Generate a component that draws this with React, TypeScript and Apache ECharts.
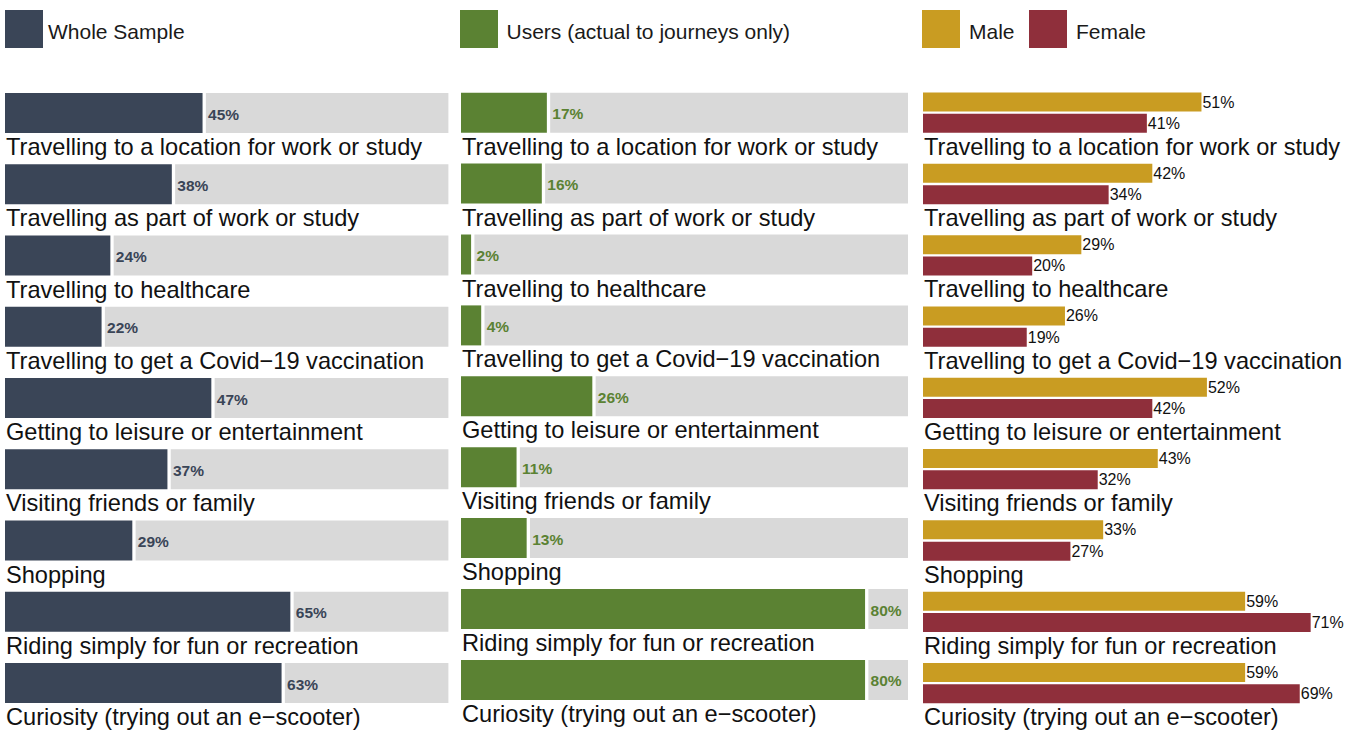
import React, { useEffect, useRef } from "react";
import * as echarts from "echarts";

const categories = [
  "Travelling to a location for work or study",
  "Travelling as part of work or study",
  "Travelling to healthcare",
  "Travelling to get a Covid\u221219 vaccination",
  "Getting to leisure or entertainment",
  "Visiting friends or family",
  "Shopping",
  "Riding simply for fun or recreation",
  "Curiosity (trying out an e\u2212scooter)",
];

const wholeSample = [45, 38, 24, 22, 47, 37, 29, 65, 63];
const users = [17, 16, 2, 4, 26, 11, 13, 80, 80];
const male = [51, 42, 29, 26, 52, 43, 33, 59, 59];
const female = [41, 34, 20, 19, 42, 32, 27, 71, 69];

const legendWhole = "Whole Sample";
const legendUsers = "Users (actual to journeys only)";
const legendMale = "Male";
const legendFemale = "Female";

const NAVY = "#3a4557";
const GREEN = "#5b8233";
const GREY = "#d9d9d9";
const GOLD = "#c99c22";
const RED = "#8f2f3b";
const FONT = "Liberation Sans, Arial, sans-serif";
const CAT_SIZE = 23.6;

const LEFT_MAX = 101;
const MID_MAX = 88.5;
const RIGHT_MAX = 75;

function makeBarRender(color: string, axisMax: number) {
  return (params: any, api: any) => {
    const v = api.value(0);
    const idx = api.value(1);
    const start = api.coord([0, idx]);
    const end = api.coord([v, idx]);
    const full = api.coord([axisMax, idx]);
    const cy = start[1];
    return {
      type: "group",
      children: [
        {
          type: "rect",
          shape: { x: start[0], y: cy - 20, width: end[0] - start[0], height: 40 },
          style: { fill: color },
        },
        {
          type: "rect",
          shape: { x: end[0] + 3.3, y: cy - 20, width: full[0] - end[0] - 3.3, height: 40 },
          style: { fill: GREY },
        },
        {
          type: "text",
          x: end[0] + 5.5,
          y: cy + 1,
          style: {
            text: v + "%",
            fill: color,
            fontSize: 15.5,
            fontWeight: "bold",
            fontFamily: FONT,
            align: "left",
            verticalAlign: "middle",
          },
        },
        {
          type: "text",
          x: start[0] + 1,
          y: cy + 34,
          style: {
            text: categories[idx],
            fill: "#111",
            fontSize: CAT_SIZE,
            fontFamily: FONT,
            align: "left",
            verticalAlign: "middle",
          },
        },
      ],
    };
  };
}

function labelRender(params: any, api: any) {
  const idx = api.value(1);
  const p = api.coord([0, idx]);
  return {
    type: "text",
    x: p[0] + 1,
    y: p[1] + 34,
    style: {
      text: categories[idx],
      fill: "#111",
      fontSize: CAT_SIZE,
      fontFamily: FONT,
      align: "left",
      verticalAlign: "middle",
    },
  };
}

export default function App() {
  const ref = useRef<HTMLDivElement>(null);
  useEffect(() => {
    if (!ref.current) return;
    const chart = echarts.init(ref.current, null, { renderer: "svg" });
    const hiddenX = (max: number, gi: number) => ({
      type: "value",
      gridIndex: gi,
      min: 0,
      max,
      show: false,
    });
    const hiddenY = (gi: number) => ({
      type: "category",
      gridIndex: gi,
      data: categories,
      inverse: true,
      show: false,
    });
    const legendItem = (x: number, w: number, gap: number, color: string, text: string) => [
      { type: "rect", shape: { x, y: 10, width: w, height: 38 }, style: { fill: color } },
      {
        type: "text",
        x: x + w + gap,
        y: 31,
        style: {
          text,
          fill: "#1a1a1a",
          fontSize: 21,
          fontFamily: FONT,
          align: "left",
          verticalAlign: "middle",
        },
      },
    ];
    const barLabel = {
      show: true,
      position: "right",
      distance: 1,
      formatter: "{c}%",
      color: "#111",
      fontSize: 16,
      fontFamily: FONT,
    };
    chart.setOption({
      animation: false,
      backgroundColor: "#ffffff",
      textStyle: { fontFamily: FONT },
      grid: [
        { left: 5, top: 77.4, width: 443.4, height: 641.25 },
        { left: 461, top: 77.25, width: 447, height: 638.1 },
        { left: 923, top: 77.05, width: 409.5, height: 641.7 },
      ],
      xAxis: [hiddenX(LEFT_MAX, 0), hiddenX(MID_MAX, 1), hiddenX(RIGHT_MAX, 2)],
      yAxis: [hiddenY(0), hiddenY(1), hiddenY(2)],
      graphic: [
        ...legendItem(5, 38, 5, NAVY, legendWhole),
        ...legendItem(460, 38, 8.5, GREEN, legendUsers),
        ...legendItem(922, 38, 9, GOLD, legendMale),
        ...legendItem(1029, 38, 9, RED, legendFemale),
      ],
      series: [
        {
          type: "custom",
          name: legendWhole,
          xAxisIndex: 0,
          yAxisIndex: 0,
          silent: true,
          renderItem: makeBarRender(NAVY, LEFT_MAX),
          encode: { x: 0, y: 1 },
          data: wholeSample.map((v, i) => [v, i]),
        },
        {
          type: "custom",
          name: legendUsers,
          xAxisIndex: 1,
          yAxisIndex: 1,
          silent: true,
          renderItem: makeBarRender(GREEN, MID_MAX),
          encode: { x: 0, y: 1 },
          data: users.map((v, i) => [v, i]),
        },
        {
          type: "bar",
          name: legendMale,
          xAxisIndex: 2,
          yAxisIndex: 2,
          silent: true,
          barWidth: 19,
          barGap: "12%",
          itemStyle: { color: GOLD },
          label: barLabel,
          data: male,
        },
        {
          type: "bar",
          name: legendFemale,
          xAxisIndex: 2,
          yAxisIndex: 2,
          silent: true,
          barWidth: 19,
          barGap: "12%",
          itemStyle: { color: RED },
          label: barLabel,
          data: female,
        },
        {
          type: "custom",
          xAxisIndex: 2,
          yAxisIndex: 2,
          silent: true,
          renderItem: labelRender,
          encode: { x: 0, y: 1 },
          data: categories.map((c, i) => [0, i]),
        },
      ],
    });
    return () => chart.dispose();
  }, []);
  return (
    <div
      ref={ref}
      style={{ position: "fixed", left: 0, top: 0, width: 1359, height: 731, background: "#fff" }}
    />
  );
}
